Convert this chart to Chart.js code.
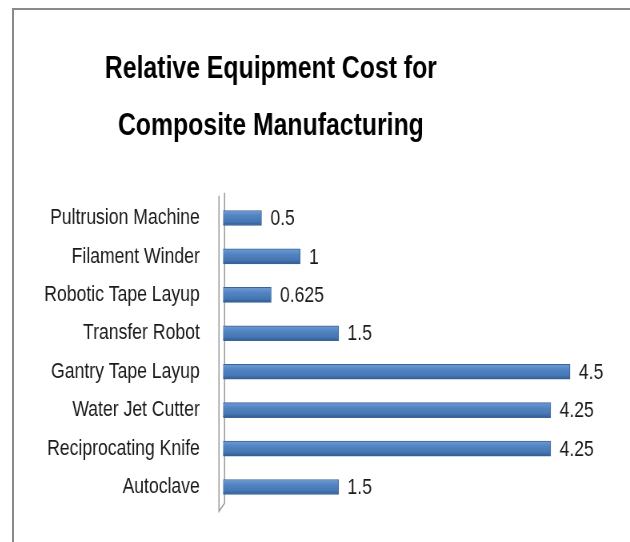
<!DOCTYPE html>
<html>
<head>
<meta charset="utf-8">
<script src="https://cdn.jsdelivr.net/npm/chart.js@4.4.1/dist/chart.umd.min.js"></script>
<style>
  html, body { margin: 0; padding: 0; background: #ffffff; overflow: hidden; }
  #frame { position: absolute; left: 12px; top: 8px; width: 700px; height: 600px;
           border-left: 2px solid #8a8a8a; border-top: 2px solid #8a8a8a; }
  #c { position: absolute; left: 0; top: 0; }
</style>
</head>
<body>
<div id="frame"><canvas id="c" width="770" height="532" style="width:616px;height:532px"></canvas></div>
<script>
const titleLines = ["Relative Equipment Cost for", "Composite Manufacturing"];
const categories = ["Pultrusion Machine", "Filament Winder", "Robotic Tape Layup", "Transfer Robot",
                    "Gantry Tape Layup", "Water Jet Cutter", "Reciprocating Knife", "Autoclave"];
const costValues = [0.5, 1, 0.625, 1.5, 4.5, 4.25, 4.25, 1.5];

const FONT = "'Liberation Sans', Arial, sans-serif";
const BAR_H = 15;

function barFill(context) {
  const chart = context.chart;
  const yScale = chart.scales && chart.scales.y;
  if (!yScale || context.dataIndex === undefined) return '#4f81bd';
  const cy = yScale.getPixelForValue(context.dataIndex);
  if (!Number.isFinite(cy)) return '#4f81bd';
  const g = chart.ctx.createLinearGradient(0, cy - BAR_H / 2, 0, cy + BAR_H / 2);
  g.addColorStop(0, '#6f9bd3');
  g.addColorStop(0.35, '#5384c2');
  g.addColorStop(0.75, '#4676b3');
  g.addColorStop(1, '#2f5b90');
  return g;
}

const valueLabels = {
  id: 'valueLabels',
  afterDatasetsDraw(chart) {
    const ctx = chart.ctx;
    const meta = chart.getDatasetMeta(0);
    ctx.save();
    ctx.font = "22px " + FONT;
    ctx.fillStyle = "#1a1a1a";
    ctx.textAlign = "left";
    ctx.textBaseline = "middle";
    meta.data.forEach((bar, i) => {
      ctx.fillText(String(costValues[i]), bar.x + 11, bar.y + 1);
    });
    ctx.restore();
  }
};

const sideWall = {
  id: 'sideWall',
  beforeDatasetsDraw(chart) {
    const {ctx, chartArea: a} = chart;
    ctx.save();
    ctx.strokeStyle = '#9a9a9a';
    ctx.lineWidth = 1.5;
    ctx.beginPath();
    ctx.moveTo(a.left - 5, a.top - 3);
    ctx.lineTo(a.left - 5, a.bottom + 5);
    ctx.lineTo(a.left + 2, a.bottom - 3);
    ctx.lineTo(a.left + 2, a.top - 6);
    ctx.stroke();
    ctx.restore();
  }
};

new Chart(document.getElementById('c'), {
  type: 'bar',
  data: {
    labels: categories,
    datasets: [{
      data: costValues,
      backgroundColor: barFill,
      borderColor: '#3a649a',
      borderWidth: 1,
      barThickness: BAR_H
    }]
  },
  options: {
    indexAxis: 'y',
    responsive: false,
    animation: false,
    devicePixelRatio: 1,
    layout: { padding: { left: -101, right: 26.75, top: 0, bottom: 35.8 } },
    plugins: {
      legend: { display: false },
      tooltip: { enabled: false },
      title: {
        display: true,
        text: titleLines,
        color: '#000000',
        font: { family: FONT, size: 31, weight: 'bold', lineHeight: 57 / 31 },
        padding: { top: 31, bottom: 43.8 }
      }
    },
    scales: {
      x: { display: false, min: 0, max: 5 },
      y: {
        afterFit(scale) {
          scale.width = 362.25;
          scale.paddingTop = 0;
          scale.paddingBottom = 0;
        },
        grid: { display: false, drawTicks: false },
        border: { display: false },
        ticks: { color: '#1a1a1a', padding: 29, font: { family: FONT, size: 22 } }
      }
    }
  },
  plugins: [sideWall, valueLabels]
});
</script>
</body>
</html>
